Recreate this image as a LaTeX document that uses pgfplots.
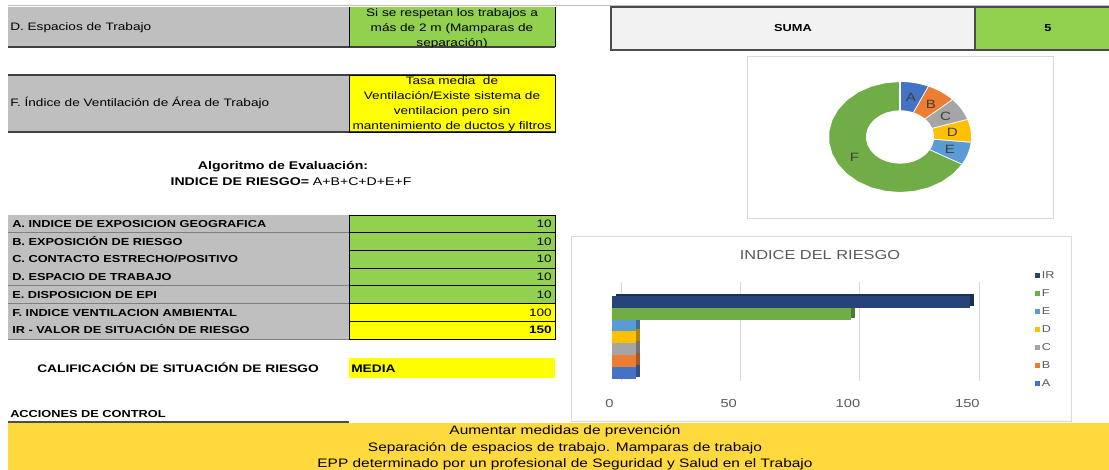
\documentclass[border=0pt]{standalone}
\usepackage{pgfplots}
\pgfplotsset{compat=1.18}
\usepackage{pgfplotstable}
\usepackage{fontspec}
\setmainfont{Liberation Sans}[FakeStretch=1.26]

\definecolor{cellgray}{HTML}{BFBFBF}
\definecolor{cellgreen}{HTML}{92D050}
\definecolor{cellyellow}{HTML}{FFFF00}
\definecolor{banner}{HTML}{FFD93D}
\definecolor{sumagray}{HTML}{F2F2F2}
\definecolor{framegray}{HTML}{D9D9D9}
\definecolor{txtgray}{HTML}{595959}
\definecolor{lblgray}{HTML}{404040}
\definecolor{slice0}{HTML}{4472C4}
\definecolor{slice1}{HTML}{ED7D31}
\definecolor{slice2}{HTML}{A5A5A5}
\definecolor{slice3}{HTML}{FFC000}
\definecolor{slice4}{HTML}{5B9BD5}
\definecolor{slice5}{HTML}{70AD47}
\definecolor{slice6}{HTML}{264478}

\newcommand\fA{\fontsize{8.1}{11.25}\selectfont}
\newcommand\fB{\fontsize{7.6}{10}\selectfont\bfseries}
\newcommand\fC{\fontsize{8.4}{11}\selectfont}
\newcommand\fBan{\fontsize{9.2}{12.4}\selectfont}
\newcommand\fT{\fontsize{9.75}{12}\selectfont}
\newcommand\fK{\fontsize{8.75}{11}\selectfont}
\newcommand\fL{\fontsize{7.5}{9}\selectfont}
\newcommand\fD{\fontsize{9}{11}\selectfont}

\pgfplotsset{mybar/.style={xbar, bar shift=0pt, bar width=1, draw=none,
  legend image code/.code={\fill[##1] (0pt,-1.9pt) rectangle (3.8pt,1.9pt);}}}

\pgfplotstableread{
name value
A 10
B 10
C 10
D 10
E 10
F 100
}\donutdata

\newcommand\trow[5]{%
  \pgfmathsetmacro\ya{215+#1*17.71}%
  \pgfmathsetmacro\yb{\ya+17.71}%
  \pgfmathsetmacro\yc{\ya+8.85+3.6}%
  \fill[cellgray] (8,\ya) rectangle (349,\yb);
  \fill[#4] (349,\ya) rectangle (555,\yb);
  \draw[black!50, line width=0.6pt] (8,\yb) -- (349,\yb);
  \draw[black, line width=0.6pt] (349,\ya) rectangle (555,\yb);
  \node[inner sep=0pt, anchor=base west] at (12,\yc) {\fB #2};
  \node[inner sep=0pt, anchor=base east] at (552,\yc) {\fA #5#3};
}

\begin{document}
\begin{tikzpicture}[x=0.75pt, y=-0.75pt]
\useasboundingbox (0,0) rectangle (1109,470);
\clip (0,0) rectangle (1109,470);

% ---------- donut angles from data ----------
\def\total{0}
\pgfplotsforeachungrouped \i in {0,...,5}{%
  \pgfplotstablegetelem{\i}{value}\of\donutdata
  \pgfmathsetmacro\total{\total+\pgfplotsretval}%
}
\def\cum{0}
\pgfplotsforeachungrouped \i in {0,...,5}{%
  \pgfplotstablegetelem{\i}{value}\of\donutdata
  \pgfmathsetmacro\sa{90-(\cum/\total)*360}%
  \pgfmathsetmacro\cum{\cum+\pgfplotsretval}%
  \pgfmathsetmacro\ea{90-(\cum/\total)*360}%
  \expandafter\xdef\csname dS\i\endcsname{\sa}%
  \expandafter\xdef\csname dE\i\endcsname{\ea}%
}

% ---------- top line ----------
\draw[black!25, line width=0.75pt] (8,6) -- (1109,6);

% ---------- D row ----------
\fill[cellgray] (8,7) rectangle (349,47);
\fill[cellgreen] (349,7) rectangle (555,47);
\draw[black!75, line width=1.1pt] (8,47) -- (555,47);
\draw[black, line width=0.7pt] (349,7) -- (349,47) (555,7) -- (555,47);
\node[inner sep=0pt, anchor=base west] at (10,31) {\fA D. Espacios de Trabajo};
\begin{scope}
\clip (349,7) rectangle (555,46.5);
\node[inner sep=0pt, anchor=base] at (452,17) {\fA Si se respetan los trabajos a};
\node[inner sep=0pt, anchor=base] at (452,32) {\fA más de 2 m (Mamparas de};
\node[inner sep=0pt, anchor=base] at (452,47) {\fA separación)};
\end{scope}

% ---------- F row ----------
\fill[cellgray] (8,75) rectangle (349,132);
\fill[cellyellow] (349,75) rectangle (555,132);
\draw[black!75, line width=1.1pt] (8,75) -- (555,75) (8,132) -- (555,132);
\draw[black, line width=0.7pt] (349,75) rectangle (555,132);
\node[inner sep=0pt, anchor=base west] at (10,107) {\fA F. Índice de Ventilación de Área de Trabajo};
\node[inner sep=0pt, anchor=base] at (452,85) {\fA Tasa media\ \ de};
\node[inner sep=0pt, anchor=base] at (452,100) {\fA Ventilación/Existe sistema de};
\node[inner sep=0pt, anchor=base] at (452,115) {\fA ventilacion pero sin};
\node[inner sep=0pt, anchor=base] at (452,130) {\fA mantenimiento de ductos y filtros};

% ---------- algorithm ----------
\node[inner sep=0pt, anchor=base] at (283,170) {\fC\bfseries Algoritmo de Evaluación:};
\node[inner sep=0pt, anchor=base] at (291,186) {\fC{\bfseries INDICE DE RIESGO=} A+B+C+D+E+F};

% ---------- table ----------
\trow{0}{A. INDICE DE EXPOSICION GEOGRAFICA}{10}{cellgreen}{}
\trow{1}{B. EXPOSICIÓN DE RIESGO}{10}{cellgreen}{}
\trow{2}{C. CONTACTO ESTRECHO/POSITIVO}{10}{cellgreen}{}
\trow{3}{D. ESPACIO DE TRABAJO}{10}{cellgreen}{}
\trow{4}{E. DISPOSICION DE EPI}{10}{cellgreen}{}
\trow{5}{F. INDICE VENTILACION AMBIENTAL}{100}{cellyellow}{}
\trow{6}{IR - VALOR DE SITUACIÓN DE RIESGO}{150}{cellyellow}{\bfseries}
\draw[black, line width=0.6pt] (349,215) rectangle (555,339);

% ---------- calificacion ----------
\node[inner sep=0pt, anchor=base west] at (37,372) {\fontsize{8.2}{11}\selectfont\bfseries CALIFICACIÓN DE SITUACIÓN DE RIESGO};
\fill[cellyellow] (349,358) rectangle (555,378);
\node[inner sep=0pt, anchor=base west] at (351,372) {\fontsize{8.2}{11}\selectfont\bfseries MEDIA};

% ---------- acciones ----------
\node[inner sep=0pt, anchor=base west] at (10,417) {\fB ACCIONES DE CONTROL};
\draw[black!70, line width=1.2pt] (8,422) -- (349,422);

% ---------- SUMA ----------
\fill[sumagray] (611,7) rectangle (975,50);
\fill[cellgreen] (975,7) rectangle (1109,50);
\draw[black!70, line width=0.9pt] (1109,7) -- (611,7) -- (611,50) -- (1109,50) (975,7) -- (975,50);
\node[inner sep=0pt, anchor=base] at (793,32) {\fB SUMA};
\node[inner sep=0pt, anchor=base] at (1048,32) {\fB 5};

% ---------- chart frames ----------
\draw[framegray, fill=white, line width=0.75pt] (747,57) rectangle (1053,219);
\draw[framegray, fill=white, line width=0.75pt] (571,237) rectangle (1071,421);

% ---------- donut (centre 900,137 px) ----------
\begin{axis}[at={(675pt,-102.75pt)}, anchor=center, scale only axis,
  width=108pt, height=84pt, xmin=-1, xmax=1, ymin=-1, ymax=1,
  hide axis, clip=false]
\pgfplotsinvokeforeach{0,...,5}{
  \edef\slS{\csname dS#1\endcsname}
  \edef\slE{\csname dE#1\endcsname}
  \addplot[fill=slice#1, draw=white, line width=1.4pt, line join=round, samples at={0,...,41}]
    ({ifthenelse(x<20.5,1,0.46)*cos(ifthenelse(x<20.5,(\slS)+x*((\slE)-(\slS))/20,(\slE)+(x-21)*((\slS)-(\slE))/20))},
     {ifthenelse(x<20.5,1,0.46)*sin(ifthenelse(x<20.5,(\slS)+x*((\slE)-(\slS))/20,(\slE)+(x-21)*((\slS)-(\slE))/20))});
  \pgfmathsetmacro\mid{((\slS)+(\slE))/2}
  \pgfmathsetmacro\mx{0.73*cos(\mid)}
  \pgfmathsetmacro\my{0.73*sin(\mid)}
  \pgfplotstablegetelem{#1}{name}\of\donutdata
  \edef\temp{\noexpand\node[font=\noexpand\fD, text=lblgray, inner sep=0pt] at (axis cs:\mx,\my) {\pgfplotsretval};}
  \temp
}
\end{axis}

% ---------- bar chart (origin 612,381 px) ----------
\node[inner sep=0pt, anchor=base, text=txtgray] at (820,259) {\fT INDICE DEL RIESGO};
\begin{axis}[at={(459pt,-285.75pt)}, anchor=south west, scale only axis,
  width=268.5pt, height=74.25pt,
  xmin=0, xmax=150, ymin=-0.7, ymax=7.69, clip=false,
  axis line style={draw=none}, ytick=\empty, xtick={0,50,100,150},
  tick style={draw=none},
  xmajorgrids, major grid style={draw=black!15, line width=0.7pt, xshift=6.75pt},
  xticklabel style={font=\fK, text=txtgray, anchor=center, yshift=-16.5pt, xshift=-2pt},
  /pgf/number format/assume math mode=true,
  reverse legend,
  legend cell align=left,
  legend style={at={(1.18,1.155)}, anchor=north west, draw=none, fill=none,
    inner sep=0pt, column sep=1.5pt, row sep=0pt,
    nodes={inner sep=0pt, minimum height=13.5pt, font=\fL, text=txtgray}},
]
\addplot[mybar, fill=slice0!70!black, forget plot, xshift=3pt, yshift=1.5pt] coordinates {(10,0)};
\addplot[mybar, fill=slice0] coordinates {(10,0)};
\addlegendentry{A}
\addplot[mybar, fill=slice1!70!black, forget plot, xshift=3pt, yshift=1.5pt] coordinates {(10,1)};
\addplot[mybar, fill=slice1] coordinates {(10,1)};
\addlegendentry{B}
\addplot[mybar, fill=slice2!70!black, forget plot, xshift=3pt, yshift=1.5pt] coordinates {(10,2)};
\addplot[mybar, fill=slice2] coordinates {(10,2)};
\addlegendentry{C}
\addplot[mybar, fill=slice3!70!black, forget plot, xshift=3pt, yshift=1.5pt] coordinates {(10,3)};
\addplot[mybar, fill=slice3] coordinates {(10,3)};
\addlegendentry{D}
\addplot[mybar, fill=slice4!70!black, forget plot, xshift=3pt, yshift=1.5pt] coordinates {(10,4)};
\addplot[mybar, fill=slice4] coordinates {(10,4)};
\addlegendentry{E}
\addplot[mybar, fill=slice5!70!black, forget plot, xshift=3pt, yshift=1.5pt] coordinates {(100,5)};
\addplot[mybar, fill=slice5] coordinates {(100,5)};
\addlegendentry{F}
\addplot[mybar, fill=slice6!70!black, forget plot, xshift=3pt, yshift=1.5pt] coordinates {(150,6)};
\addplot[mybar, fill=slice6] coordinates {(150,6)};
\addlegendentry{IR}
\end{axis}

% ---------- banner ----------
\fill[banner] (8,423) rectangle (1109,470);
\node[inner sep=0pt, anchor=base] at (565,434.5) {\fBan Aumentar medidas de prevención};
\node[inner sep=0pt, anchor=base] at (565,451) {\fBan Separación de espacios de trabajo. Mamparas de trabajo};
\node[inner sep=0pt, anchor=base] at (565,467.5) {\fBan EPP determinado por un profesional de Seguridad y Salud en el Trabajo};
\end{tikzpicture}
\end{document}
